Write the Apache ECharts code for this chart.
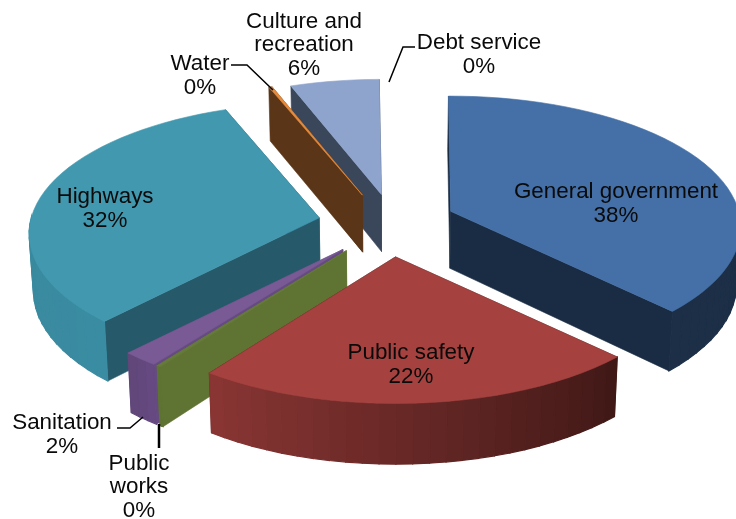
<!DOCTYPE html>
<html>
<head>
<meta charset="utf-8">
<style>html,body{margin:0;padding:0;background:#fff}#chart{width:736px;height:519px}</style>
<script src="https://cdn.jsdelivr.net/npm/echarts@6/dist/echarts.min.js"></script>
</head>
<body>
<div id="chart"></div>
<script>
// Expenditure shares, clockwise from twelve o'clock
const categories = ['General government', 'Public safety', 'Public works', 'Sanitation', 'Highways', 'Water', 'Culture and recreation', 'Debt service'];
const shares = [37.7, 22.35, 0.2, 1.8, 32.2, 0.2, 5.55, 0.0];

// Label wrapping and placement
const labelNames = ['General government', 'Public safety', 'Public\nworks', 'Sanitation', 'Highways', 'Water', 'Culture and\nrecreation', 'Debt service'];
const labelAnchors = [[616, 204], [411, 365], [139, 487], [62, 435], [105, 209], [200, 76], [304, 45], [479, 55]];
const leaderLines = [null, null, [[159, 424], [159, 448]], [[117, 428], [130, 428], [143, 417]], null, [[231, 65], [247, 65], [273, 90]], null, [[415, 47], [403, 47], [389, 82]]];
const leaderWidths = [0, 0, 2.5, 1.5, 0, 1.5, 0, 1.5];

// Slice colours: top face, radial face, outer wall start and end
const topColors = ['#4470A7', '#A5423F', '#667A3C', '#795A94', '#4198AF', '#E58B3C', '#8FA4CD', '#BBBBBB'];
const faceColors = ['#1A2C43', '#451A17', '#5F7333', '#664A82', '#265A6B', '#5B3517', '#3A475A', '#888888'];
const wallFrom = ['#1A2C43', '#3F1816', '#5F7333', '#664A82', '#3A8CA2', '#5B3517', '#3A475A', '#888888'];
const wallTo = ['#1C2F47', '#8A3634', '#5F7333', '#604679', '#3A8698', '#5B3517', '#3A475A', '#888888'];

// Painter's order, back slices first
const paintOrder = [6, 5, 0, 4, 3, 2, 1, 7];

// Tilted disc geometry
const CX = 387, CY = 224, RX = 288, RY = 129, PERSPECTIVE = 0.12;
const EXPLODE_X = 69, EXPLODE_Y = 33, DEPTH = 57, TAPER = 0.012, START_DEG = -0.5;
const apexNudgeX = [0, 3, 0, 0, 0, 0, 7, 0];
const apexNudgeY = [0, 0, 0, 0, 0, 2, 3, 0];

const total = shares.reduce((a, b) => a + b, 0);
const rad = d => d * Math.PI / 180;

function rimPoint(apex, deg) {
  const X = Math.sin(rad(deg)), Y = Math.cos(rad(deg));
  const d = 1 + PERSPECTIVE * Y;
  return [apex[0] + RX * X / d, apex[1] - RY * Y / d];
}
function dropPoint(p, deg) {
  const Y = deg === null ? 0 : Math.cos(rad(deg));
  return [p[0] + (CX - p[0]) * TAPER, p[1] + DEPTH / (1 + 0.5 * PERSPECTIVE * Y)];
}
function mix(a, b, t) {
  const c = s => [1, 3, 5].map(i => parseInt(s.substr(i, 2), 16));
  const A = c(a), B = c(b);
  return 'rgb(' + A.map((v, i) => Math.round(v + (B[i] - v) * t)).join(',') + ')';
}
function poly(points, fill, z2, width) {
  return { type: 'polygon', z2, shape: { points }, style: { fill, stroke: fill, lineWidth: width || 0.6 } };
}

function renderSlice(params, api) {
  const i = params.dataIndex;
  const value = api.value(1);
  const before = shares.slice(0, i).reduce((a, b) => a + b, 0);
  const a0 = START_DEG + before / total * 360;
  const a1 = a0 + value / total * 360;
  const mid = (a0 + a1) / 2;
  const apex = [CX + apexNudgeX[i] + EXPLODE_X * Math.sin(rad(mid)), CY + apexNudgeY[i] - EXPLODE_Y * Math.cos(rad(mid))];
  const base = paintOrder.indexOf(i) * 1000;
  const children = [];

  if (value > 0) {
    const steps = Math.max(2, Math.ceil((a1 - a0) / 3));
    const angles = [];
    for (let s = 0; s <= steps; s++) angles.push(a0 + (a1 - a0) * s / steps);
    const rim = angles.map(a => rimPoint(apex, a));
    const apexLow = dropPoint(apex, null);

    // Radial cut faces
    children.push(poly([apex, rim[0], dropPoint(rim[0], a0), apexLow], faceColors[i], base + 1));
    children.push(poly([apex, rim[steps], dropPoint(rim[steps], a1), apexLow], faceColors[i], base + 2));

    // Outer wall, built from shaded strips on the viewer's side of the disc
    for (let s = 0; s < steps; s++) {
      const m = (angles[s] + angles[s + 1]) / 2;
      if (Math.cos(rad(m)) > 0.02) continue;
      const fill = mix(wallFrom[i], wallTo[i], (m - a0) / (a1 - a0));
      children.push(poly([rim[s], rim[s + 1], dropPoint(rim[s + 1], angles[s + 1]), dropPoint(rim[s], angles[s])], fill, base + 3, 1.2));
    }

    // Top face
    children.push(poly([apex].concat(rim), topColors[i], base + 4));
  }

  // Category name and rounded percentage
  children.push({
    type: 'text', z2: 50000, x: labelAnchors[i][0], y: labelAnchors[i][1],
    style: {
      text: labelNames[i] + '\n' + Math.round(value / total * 100) + '%',
      fontFamily: '"Liberation Sans", Arial, sans-serif', fontSize: 22.4, lineHeight: 23.5,
      fill: '#0a0a0a', align: 'center', verticalAlign: 'middle'
    }
  });
  if (leaderLines[i]) {
    children.push({
      type: 'polyline', z2: 50001, shape: { points: leaderLines[i] },
      style: { stroke: '#000', lineWidth: leaderWidths[i], fill: null }
    });
  }
  return { type: 'group', children };
}

const chart = echarts.init(document.getElementById('chart'), null, { renderer: 'canvas' });
chart.setOption({
  animation: false,
  backgroundColor: '#ffffff',
  series: [{
    type: 'custom',
    coordinateSystem: 'none',
    silent: true,
    clip: false,
    renderItem: renderSlice,
    data: categories.map((name, i) => ({ name, value: [i, shares[i]] }))
  }]
});
</script>
</body>
</html>
